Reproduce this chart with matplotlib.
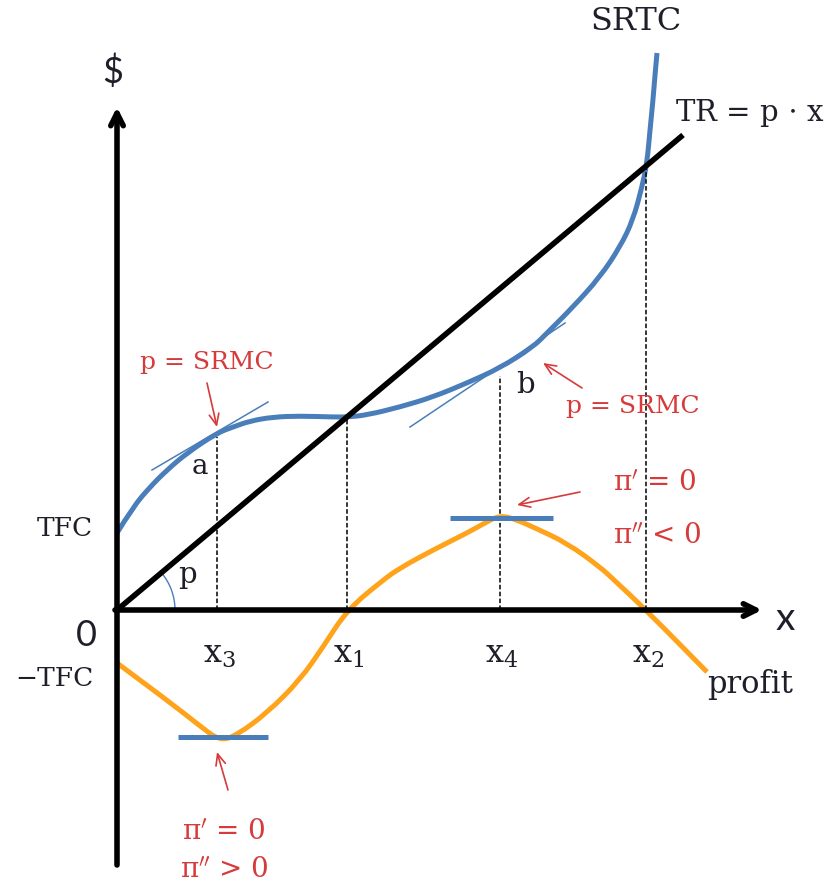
import numpy as np
import matplotlib
matplotlib.use('Agg')
import matplotlib.pyplot as plt
from matplotlib.patches import Arc, PathPatch
from matplotlib.path import Path

# curves (x to the right of the y-axis, y up from the x-axis)
srtc_x = [0, 16, 33, 50, 70, 100, 116, 133, 156, 183, 216, 231, 250, 283, 316,
          350, 383, 416, 430, 456, 483, 503, 516, 525, 530, 533, 536, 538, 540]
srtc_y = [77, 103, 123, 140, 157, 177, 183, 189, 193, 194, 193, 193, 195, 203, 213,
          227, 242, 263, 277, 303, 333, 363, 390, 423, 447, 480, 510, 535, 557]

tr_x = [0, 566]
tr_y = [0, 475]

profit_x = [0, 50, 83, 103, 120, 150, 183, 206, 230, 266, 283, 316, 350, 366,
            383, 400, 416, 450, 483, 496, 529, 590]
profit_y = [-53, -90, -116, -131, -125, -103, -70, -37, 0, 30, 42, 60, 77, 86,
            95, 90, 83, 67, 43, 31, 0, -62]

# tangent segments at a and b
tan_a_x = [35, 151]
tan_a_y = [140, 208]
tan_b_x = [293, 448]
tan_b_y = [183, 287]

# output levels x3, x1, x4, x2 and top of their dashed guides
x_marks = [100, 230, 383, 529]
x_names = [r'$\mathrm{x}_3$', r'$\mathrm{x}_1$', r'$\mathrm{x}_4$', r'$\mathrm{x}_2$']
x_tops = [173, 193, 234, 444]

# flat tangents of profit at min and max
flat_x = [[61, 151], [333, 436]]
flat_y = [-127, 92]

BLUE = '#4a7ebb'
ORANGE = '#ffa31a'
RED = '#d63a3a'
INK = '#1f1f2a'
SERIF = 'DejaVu Serif'
SANS = 'Lato'
plt.rcParams['mathtext.fontset'] = 'dejavuserif'


def smooth(ax, xs, ys, **kw):
    # quadratic bezier through the midpoints of the read points
    pts = np.column_stack([xs, ys]).astype(float)
    verts = [pts[0]]
    codes = [Path.MOVETO]
    for i in range(1, len(pts) - 1):
        verts += [pts[i], (pts[i] + pts[i + 1]) / 2]
        codes += [Path.CURVE3, Path.CURVE3]
    verts.append(pts[-1])
    codes.append(Path.LINETO)
    ax.add_patch(PathPatch(Path(verts, codes), fill=False, capstyle='butt', **kw))


fig = plt.figure(figsize=(8.3, 8.85), dpi=100)
ax = fig.add_axes([0, 0, 1, 1])
ax.set_xlim(-117, 713)
ax.set_ylim(-275, 610)
ax.set_aspect('equal')
ax.axis('off')

# axes arrows
arrow_kw = dict(arrowstyle='->,head_length=0.9,head_width=0.45', lw=4, color='black',
                shrinkA=0, shrinkB=0)
ax.annotate('', xy=(0, 503), xytext=(0, -255), arrowprops=arrow_kw)
ax.annotate('', xy=(645, 0), xytext=(-2, 0), arrowprops=arrow_kw)

# dashed guides
for xm, top in zip(x_marks, x_tops):
    ax.plot([xm, xm], [0, top], color='black', lw=1.1, ls=(0, (3, 1.5)))

ax.plot(tr_x, tr_y, color='black', lw=4, solid_capstyle='butt')
ax.plot(tan_a_x, tan_a_y, color=BLUE, lw=1.1)
ax.plot(tan_b_x, tan_b_y, color=BLUE, lw=1.1)
smooth(ax, srtc_x, srtc_y, edgecolor=BLUE, lw=3.6)
smooth(ax, profit_x, profit_y, edgecolor=ORANGE, lw=3.6)
for fx, fy in zip(flat_x, flat_y):
    ax.plot(fx, [fy, fy], color=BLUE, lw=3.6, solid_capstyle='butt')

ax.add_patch(Arc((0, 0), 116, 116, theta1=0, theta2=40, color=BLUE, lw=1))

# labels
ax.text(519, 588, 'SRTC', family=SERIF, fontsize=23, color=INK, ha='center', va='center')
ax.text(558, 497, r'TR = p $\cdot$ x', family=SERIF, fontsize=21, color=INK, ha='left', va='center')
ax.text(-4, 538, '$', family=SANS, fontsize=26, color=INK, ha='center', va='center')
ax.text(-24, 82, 'TFC', family=SERIF, fontsize=19, color=INK, ha='right', va='center')
ax.text(-20, -26, '0', family=SANS, fontsize=26, color=INK, ha='right', va='center')
ax.text(-24, -69, '\u2212TFC', family=SERIF, fontsize=19, color=INK, ha='right', va='center')
ax.text(668, -9, 'x', family=SANS, fontsize=28, color=INK, ha='center', va='center')
ax.text(590, -75, 'profit', family=SERIF, fontsize=22, color=INK, ha='left', va='center')
ax.text(83, 144, 'a', family=SERIF, fontsize=20, color=INK, ha='center', va='center')
ax.text(408, 225, 'b', family=SERIF, fontsize=21, color=INK, ha='center', va='center')
ax.text(70, 35, 'p', family=SERIF, fontsize=21, color=INK, ha='center', va='center')
for xm, name in zip(x_marks, x_names):
    ax.text(xm + 2, -45, name, fontsize=23, color=INK, ha='center', va='center')

# red notes with arrows
red_kw = dict(arrowstyle='->,head_length=0.8,head_width=0.35', lw=1.2, color=RED,
              shrinkA=0, shrinkB=0)
notes = [
    ('p = SRMC', (90, 248), (90, 227), (100, 183)),
    ('p = SRMC', (516, 203), (465, 222), (426, 247)),
]
for txt, pos, tail, head in notes:
    ax.text(pos[0], pos[1], txt, family=SERIF, fontsize=18, color=RED, ha='center', va='center')
    ax.annotate('', xy=head, xytext=tail, arrowprops=red_kw)

pi1 = r"$\mathrm{\pi}'$ = 0"
ax.text(538, 127, pi1, family=SERIF, fontsize=20, color=RED, ha='center', va='center')
ax.text(540, 74, r"$\mathrm{\pi}''$ < 0", family=SERIF, fontsize=20, color=RED, ha='center', va='center')
ax.annotate('', xy=(400, 105), xytext=(463, 118), arrowprops=red_kw)
ax.text(107, -222, pi1, family=SERIF, fontsize=20, color=RED, ha='center', va='center')
ax.text(107, -260, r"$\mathrm{\pi}''$ > 0", family=SERIF, fontsize=20, color=RED, ha='center', va='center')
ax.annotate('', xy=(100, -142), xytext=(111, -180), arrowprops=red_kw)

fig.savefig('out.png', dpi=100, facecolor='white')
